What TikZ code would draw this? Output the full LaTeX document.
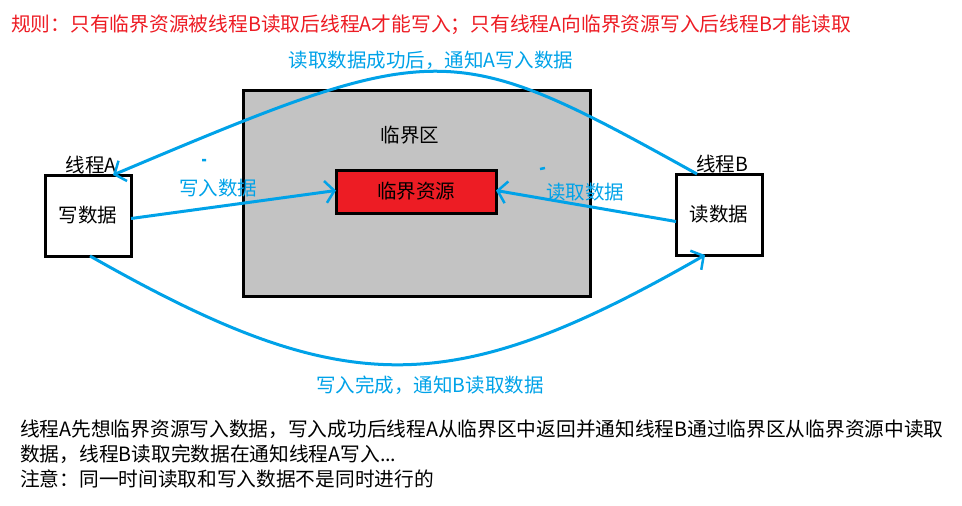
\documentclass[tikz,border=0pt]{standalone}
\usepackage{fontspec}
\setmainfont{Noto Sans CJK SC}
\usetikzlibrary{arrows.meta,positioning}
\definecolor{paintblue}{RGB}{0,162,232}
\definecolor{paintred}{RGB}{237,28,36}
\definecolor{paintgray}{RGB}{195,195,195}

\begin{document}
\begin{tikzpicture}[x=1pt,y=-1pt,
  font=\fontsize{19.5}{25}\selectfont,
  box/.style={draw,line width=3pt,outer sep=0pt,inner sep=0pt,align=center},
  arr/.style={-{Straight Barb[length=9pt,width=22pt,line width=2.5pt]},paintblue,line width=3pt},
  bluetxt/.style={text=paintblue,inner sep=1pt}]
\useasboundingbox (0,0) rectangle (962,506);
% rule line
\node[anchor=west,text=paintred,inner sep=0pt,font=\fontsize{19.75}{25}\selectfont] (rule) at (11,25) {规则：只有临界资源被线程B读取后线程A才能写入；只有线程A向临界资源写入后线程B才能读取};
% critical region and resource
\node[box,fill=paintgray,minimum width=347pt,minimum height=206pt] (region) at (416.5,193) {};
\node (regname) at (410,135) {临界区};
\node[box,fill=paintred,minimum width=160pt,minimum height=43pt] (res) at (416,191.5) {临界资源};
% threads
\node[box,fill=white,minimum width=86pt,minimum height=81pt] (wa) at (88,215.5) {写数据};
\node[box,fill=white,minimum width=86pt,minimum height=81pt] (rb) at (719,214.5) {读数据};
\node[above=-1pt of wa,xshift=3pt,inner sep=2pt] (ta) {线程A};
\node[above=-1pt of rb,xshift=3pt,inner sep=2pt] (tb) {线程B};
% write / read
\draw[arr] ([yshift=-3pt]wa.east) -- ([yshift=1pt]res.west);
\draw[arr] ([yshift=-7pt]rb.west) -- ([yshift=1pt]res.east);
\node[bluetxt] (wlab) at (218,188) {写入数据};
\node[bluetxt] (rlab) at (585,192) {读取数据};
% notify curves
\draw[arr] ([xshift=21pt]rb.north west) .. controls (450,37) and (440,37) .. ([xshift=-18pt]wa.north east);
\node[bluetxt] (toplab) at (431,60) {读取数据成功后，通知A写入数据};
\draw[arr] ([xshift=2pt]wa.south) .. controls (345,401) and (450,401) .. ([xshift=-14pt]rb.south);
\node[bluetxt] (botlab) at (430,385) {写入完成，通知B读取数据};
% stray marks
\draw[paintblue,line width=2.5pt] (202,160) -- (206,160) (540,169) -- (545,168);
% explanation
\node[anchor=north west,align=left,inner sep=0pt,font=\fontsize{19.7}{25}\selectfont] (note) at (20,420) {线程A先想临界资源写入数据，写入成功后线程A从临界区中返回并通知线程B通过临界区从临界资源中读取\\数据，线程B读取完数据在通知线程A写入...\\注意：同一时间读取和写入数据不是同时进行的};
\end{tikzpicture}
\end{document}
